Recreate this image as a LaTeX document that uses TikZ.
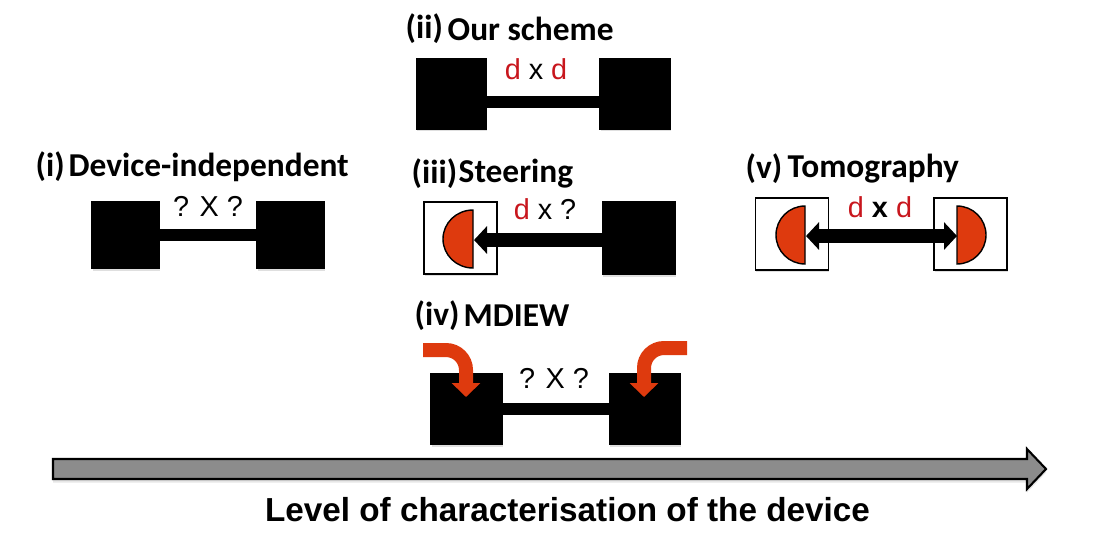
\documentclass[tikz,border=0pt]{standalone}
\usepackage{fontspec}
\setmainfont{Liberation Sans}
\newfontfamily\labelfont{Carlito}
\usepackage{xcolor}
\usetikzlibrary{arrows.meta,shadows}

\definecolor{detred}{HTML}{DE3A0E}
\definecolor{dimred}{HTML}{C8161D}

\tikzset{
    device/.style={draw=black, fill=black, inner sep=0pt, minimum width=#1cm, minimum height=#1cm, drop shadow={shadow xshift=0.2pt, shadow yshift=-0.7pt, opacity=0.25}},
    whitebox/.style={draw=black, line width=0.4pt, fill=white, inner sep=0pt, minimum width=0.73cm, minimum height=0.72cm, drop shadow={shadow xshift=0.2pt, shadow yshift=-0.7pt, opacity=0.25}},
    link/.style={line width=0.12cm, black},
    title/.style={anchor=west, inner sep=0pt, font=\labelfont\bfseries\fontsize{9.5}{11}\selectfont},
    dims/.style={inner sep=0pt, font=\fontsize{8.2}{10}\selectfont},
    detector/.style={draw=black, line width=0.4pt, fill=detred},
    inflow/.style={detred, line width=0.14cm, -{Triangle[length=0.14cm,width=0.28cm]}},
}

\begin{document}
\begin{tikzpicture}
    \useasboundingbox (0,0) rectangle (11,5.5);

    % (i) device independent
    \node[title] (ti) at (0.35,3.83) {(i)};
    \node[title] (tidev) at (0.68,3.83) {Device-independent};
    \node[device=0.67] (ia) at (1.255,3.15) {};
    \node[device=0.67] (ib) at (2.905,3.15) {};
    \draw[link] (ia) -- (ib);
    \node[dims] (idim) at (2.08,3.44) {? X ?};

    % (ii) our scheme
    \node[title] (tii) at (4.05,5.21) {(ii)};
    \node[title] (tiiour) at (4.47,5.21) {Our scheme};
    \node[device=0.7] (iia) at (4.515,4.56) {};
    \node[device=0.7] (iib) at (6.35,4.56) {};
    \coordinate (iibar) at (5.43,4.48);
    \draw[link] (iia.east |- iibar) -- (iib.west |- iibar);
    \node[dims] (iidim) at (5.36,4.81) {\textcolor{dimred}{d} x \textcolor{dimred}{d}};

    % (iii) steering
    \node[title] (tiii) at (4.11,3.76) {(iii)};
    \node[title] (tiiist) at (4.58,3.76) {Steering};
    \node[whitebox] (iiia) at (4.605,3.12) {};
    \node[device=0.73] (iiib) at (6.39,3.12) {};
    \draw[detector] (4.73,3.4) arc (90:270:0.3 and 0.29) -- cycle;
    \coordinate (iiitip) at (4.74,3.1);
    \draw[line width=0.14cm, -{Triangle[length=0.13cm,width=0.27cm]}] (iiib.west |- iiitip) -- (iiitip);
    \node[dims] (iiidim) at (5.45,3.41) {\textcolor{dimred}{d} x ?};

    % (iv) mdiew
    \node[title] (tiv) at (4.14,2.34) {(iv)};
    \node[title] (tivm) at (4.63,2.34) {MDIEW};
    \node[device=0.71] (iva) at (4.665,1.41) {};
    \node[device=0.71] (ivb) at (6.45,1.41) {};
    \draw[link] (iva) -- (ivb);
    \node[dims] (ivdim) at (5.54,1.72) {? X ?};
    \coordinate (ivstarta) at (4.23,2.0);
    \coordinate (ivstartb) at (6.87,2.02);
    \coordinate (ivtipa) at (4.66,1.53);
    \coordinate (ivtipb) at (6.44,1.53);
    \draw[inflow] (ivstarta) -- (4.46,2.0) arc (90:0:0.2) -- (ivtipa);
    \draw[inflow] (ivstartb) -- (6.64,2.02) arc (90:180:0.2) -- (ivtipb);

    % (v) tomography
    \node[title] (tv) at (7.45,3.81) {(v)};
    \node[title] (tvt) at (7.87,3.81) {Tomography};
    \node[whitebox] (va) at (7.92,3.16) {};
    \node[whitebox] (vb) at (9.705,3.16) {};
    \draw[detector] (8.05,3.44) arc (90:270:0.29) -- cycle;
    \draw[detector] (9.57,3.44) arc (90:-90:0.29) -- cycle;
    \coordinate (vtipa) at (8.06,3.14);
    \coordinate (vtipb) at (9.57,3.14);
    \draw[line width=0.14cm, {Triangle[length=0.13cm,width=0.27cm]}-{Triangle[length=0.13cm,width=0.27cm]}] (vtipa) -- (vtipb);
    \node[dims] (vdim) at (8.8,3.43) {\textcolor{dimred}{d} \textbf{x} \textcolor{dimred}{d}};

    % axis along the bottom
    \draw[draw=black, line width=0.6pt, fill=black!45, drop shadow={shadow xshift=0pt, shadow yshift=-1pt, opacity=0.2}]
        (0.53,0.91) -- (10.27,0.91) -- (10.27,1.01) -- (10.46,0.81) -- (10.27,0.61) -- (10.27,0.71) -- (0.53,0.71) -- cycle;
    \node[inner sep=0pt, font=\bfseries\fontsize{9.47}{11}\selectfont] (axislabel) at (5.675,0.4) {Level of characterisation of the device};
\end{tikzpicture}
\end{document}
